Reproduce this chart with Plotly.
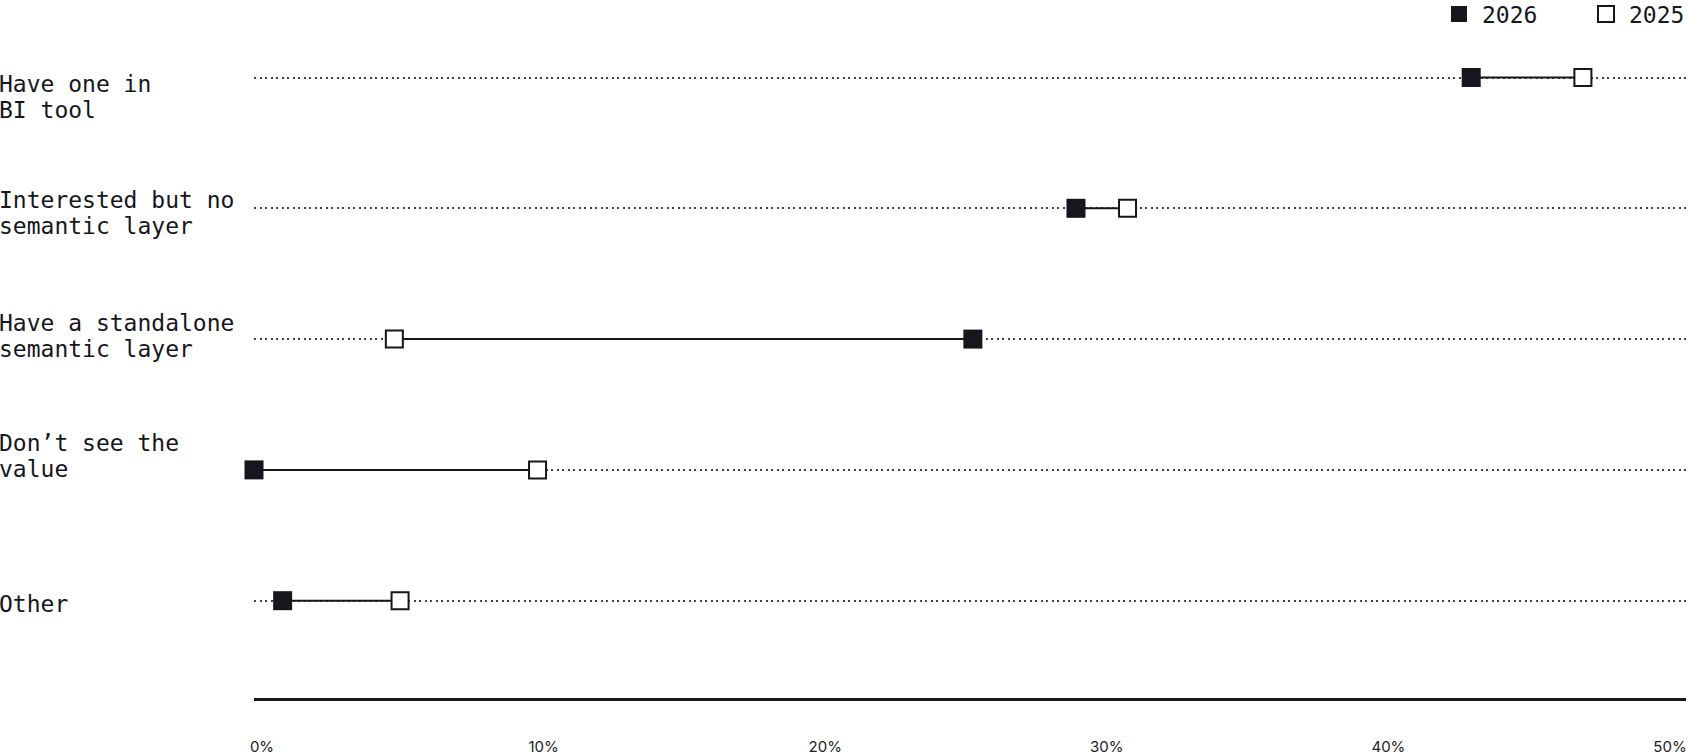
import plotly.graph_objects as go

# data
categories = [
    "Have one in\nBI tool",
    "Interested but no\nsemantic layer",
    "Have a standalone\nsemantic layer",
    "Don’t see the\nvalue",
    "Other",
]
share_2026 = [42.5, 28.7, 25.1, 0.0, 1.0]
share_2025 = [46.4, 30.5, 4.9, 9.9, 5.1]
tick_vals = [0, 10, 20, 30, 40, 50]
tick_text = ["0%", "10%", "20%", "30%", "40%", "50%"]

DARK = "#16161d"
MONO = "DejaVu Sans Mono"

rows = list(range(len(categories) - 1, -1, -1))  # top row first

fig = go.Figure()

# connector between the two years
seg_x, seg_y = [], []
for r, a, b in zip(rows, share_2026, share_2025):
    seg_x += [a, b, None]
    seg_y += [r, r, None]
fig.add_trace(go.Scatter(x=seg_x, y=seg_y, mode="lines",
                         line=dict(color=DARK, width=2), cliponaxis=False,
                         showlegend=False, hoverinfo="skip"))

fig.add_trace(go.Scatter(x=share_2026, y=rows, mode="markers", name="2026",
                         cliponaxis=False,
                         marker=dict(symbol="square", size=19, color=DARK,
                                     line=dict(width=0))))
fig.add_trace(go.Scatter(x=share_2025, y=rows, mode="markers", name="2025",
                         cliponaxis=False,
                         marker=dict(symbol="square", size=17, color="white",
                                     line=dict(width=2, color=DARK))))

# dummy trace for the second x axis, which only carries tick labels
fig.add_trace(go.Scatter(x=[0, 50], y=[0, 0], xaxis="x2", mode="markers",
                         marker=dict(opacity=0), showlegend=False,
                         hoverinfo="skip"))

# row labels, left aligned at the figure edge
label_shift = [6, -8, -16, -26.5, 3.3]
for r, lab, sh in zip(rows, categories, label_shift):
    for j, line in enumerate(lab.split("\n")):
        fig.add_annotation(x=0, xref="paper", xanchor="left", xshift=-257,
                           y=r, yref="y", yanchor="middle",
                           yshift=-(sh + 26 * j),
                           text=line, showarrow=False,
                           font=dict(family=MONO, size=23, color=DARK))

fig.update_layout(
    width=1688, height=756,
    margin=dict(l=254, r=2, t=40, b=58, autoexpand=False),
    plot_bgcolor="white", paper_bgcolor="white",
    showlegend=True,
    legend=dict(orientation="h", xref="container", yref="container",
                x=0.8507, xanchor="left", y=0.9815, yanchor="middle",
                font=dict(family=MONO, size=23, color=DARK),
                itemwidth=36, entrywidth=96,
                bgcolor="rgba(0,0,0,0)", itemclick=False),
    xaxis=dict(range=[0, 50], showgrid=False, zeroline=False,
               showticklabels=False, ticks="",
               showline=True, linecolor=DARK, linewidth=2.5),
    xaxis2=dict(range=[-0.284, 50.568], overlaying="x", anchor="y",
                side="bottom", showgrid=False, zeroline=False, showline=False,
                tickvals=tick_vals, ticktext=tick_text, ticks="",
                ticklabelstandoff=38,
                tickfont=dict(family="Inter", size=15, color="#222")),
    yaxis=dict(range=[-0.744, 4.2867], tickvals=rows, showticklabels=False,
               showgrid=True, gridcolor="#444", gridwidth=1.5,
               griddash="2px,3.5px", zeroline=False, ticks=""),
)

# drop the default page margin so the figure fills the window exactly
fig.write_html("out.html", config={"displayModeBar": False},
               post_script="document.body.style.margin='0';")
